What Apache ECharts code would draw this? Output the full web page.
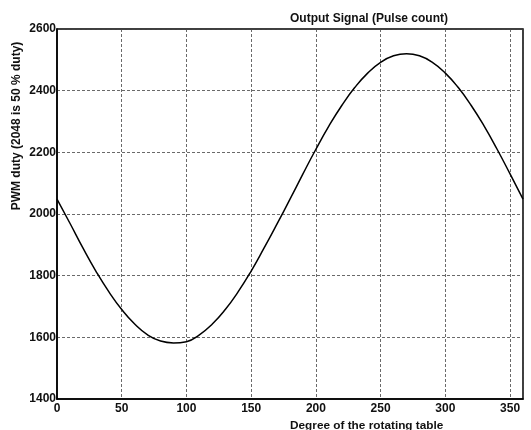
<!DOCTYPE html>
<html>
<head>
<meta charset="utf-8">
<script src="https://cdn.jsdelivr.net/npm/echarts@6/dist/echarts.min.js"></script>
<style>html,body{margin:0;padding:0;background:#fff;}#c{width:531px;height:430px;}</style>
</head>
<body>
<div id="c"></div>
<script>
var titleText = 'Output Signal (Pulse count)';
var xName = 'Degree of the rotating table';
var yName = 'PWM duty (2048 is 50 % duty)';
var degrees = [0,10,20,30,40,50,60,70,80,90,100,110,120,130,140,150,160,170,180,190,200,210,220,230,240,250,260,270,280,290,300,310,320,330,340,350,360];
var pulseCount = [2048,1970,1890,1815,1748,1690,1643,1608,1588,1582,1586,1608,1643,1690,1748,1815,1890,1968,2048,2130,2210,2285,2352,2410,2457,2492,2513,2520,2513,2492,2457,2410,2352,2285,2210,2130,2048];
var xTicks = [0,50,100,150,200,250,300,350];
var yTicks = [1400,1600,1800,2000,2200,2400,2600];

var pts = degrees.map(function(d,i){return [d,pulseCount[i]];});
var font = 'Liberation Sans, Arial, sans-serif';
var chart = echarts.init(document.getElementById('c'), null, {renderer:'canvas'});
chart.setOption({
  animation:false,
  backgroundColor:'#fff',
  title:{text:titleText,left:285,top:8,textStyle:{fontFamily:font,fontSize:12,fontWeight:'bold',color:'#111'}},
  graphic:[{type:'text',x:17,y:126,rotation:Math.PI/2,
    style:{text:yName,fontFamily:font,fontSize:12,fontWeight:'bold',fill:'#111',align:'center',verticalAlign:'middle'}}],
  grid:{left:57,right:8,top:29,bottom:31,outerBoundsMode:'none',containLabel:false,show:true,borderColor:'#000',borderWidth:1.5,backgroundColor:'transparent'},
  xAxis:{type:'value',min:xTicks[0],max:360,interval:50,
    name:xName,nameLocation:'middle',nameGap:17,
    nameTextStyle:{fontFamily:font,fontSize:11.8,fontWeight:'bold',color:'#111',align:'left'},
    axisLine:{show:true,lineStyle:{color:'#000',width:1.5}},
    axisTick:{show:false},
    axisLabel:{showMaxLabel:false,margin:4,fontFamily:font,fontSize:12,fontWeight:'bold',color:'#111',formatter:function(v){return String(v);}},
    splitLine:{show:true,lineStyle:{color:'#444',type:[3,2],width:0.8}}
  },
  yAxis:{type:'value',min:yTicks[0],max:yTicks[yTicks.length-1],interval:200,
    axisLine:{show:true,lineStyle:{color:'#000',width:1.5}},
    axisTick:{show:false},
    axisLabel:{margin:1,fontFamily:font,fontSize:12,fontWeight:'bold',color:'#111',formatter:function(v){return String(v);}},
    splitLine:{show:true,lineStyle:{color:'#444',type:[3,2],width:0.8}}
  },
  series:[{type:'line',data:pts,smooth:true,showSymbol:false,lineStyle:{color:'#000',width:1.5}}]
});
</script>
</body>
</html>
